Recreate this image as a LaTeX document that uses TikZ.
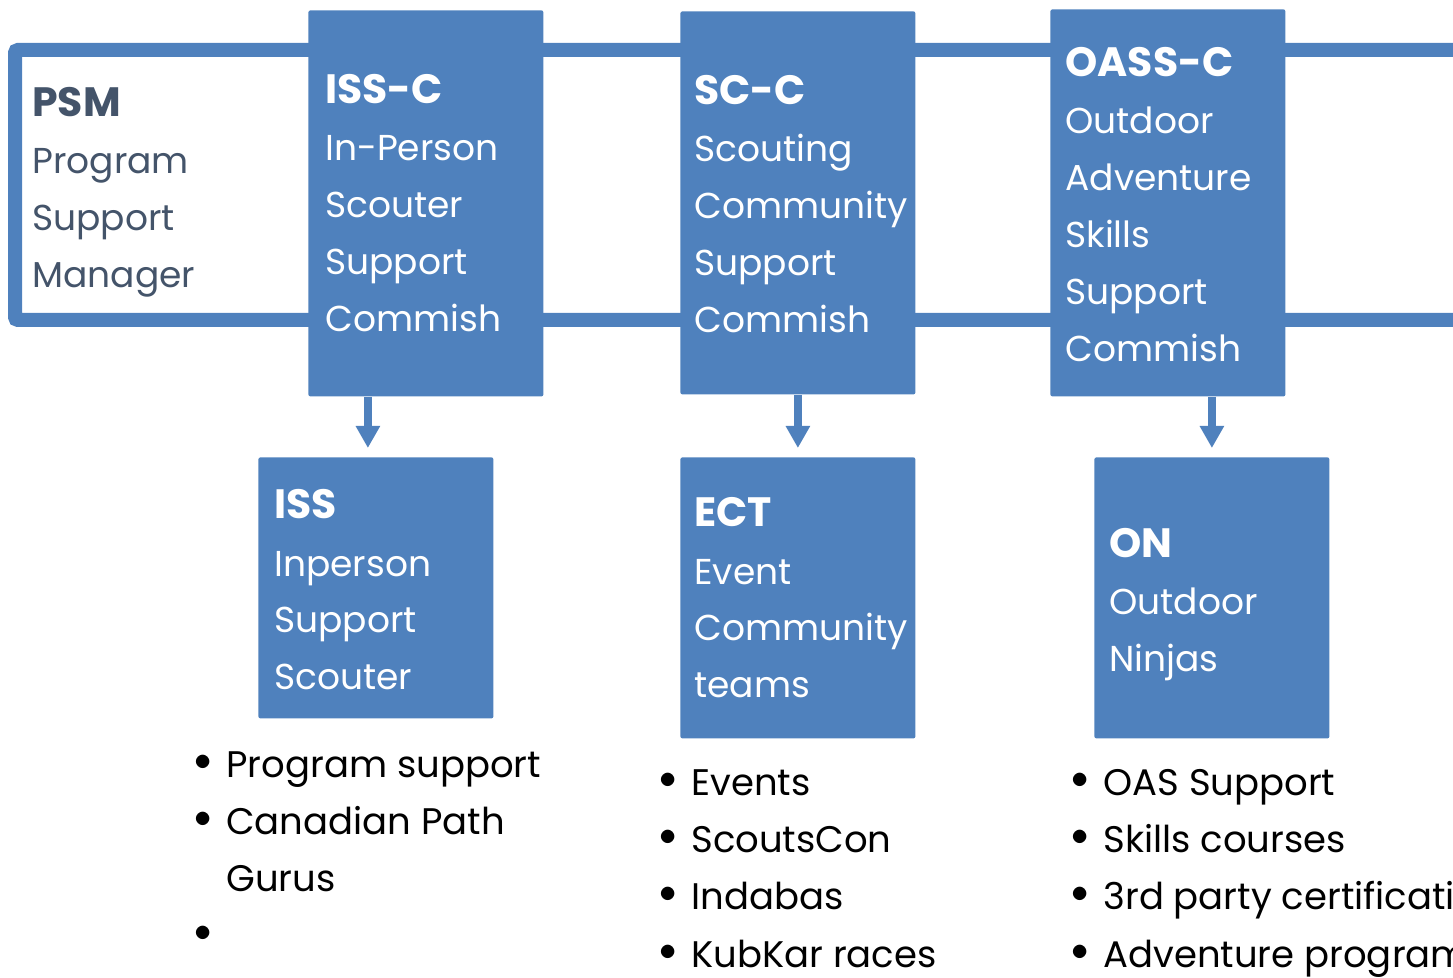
\documentclass[tikz,border=0pt]{standalone}
\usepackage{fontspec}
\setmainfont{Poppins}
\usetikzlibrary{arrows.meta}

\definecolor{boxblue}{HTML}{4F81BD}
\definecolor{slate}{HTML}{44546A}

\newcommand\hd[1]{{\fontsize{20.5}{28.5}\selectfont\bfseries #1}}
\newcommand\bul{\makebox[16pt][l]{\raisebox{3.5pt}{$\bullet$}}}

\tikzset{
  frame/.style={draw=boxblue, line width=7pt, rounded corners=1.5pt},
  box/.style={fill=boxblue, rounded corners=1pt, anchor=north west,
    minimum width=117.5pt, inner sep=0pt},
  boxtext/.style={white, anchor=base west, align=left, inner sep=0pt,
    font=\fontsize{18}{28.5}\selectfont},
  listtext/.style={black, anchor=base west, align=left, inner sep=0pt,
    font=\fontsize{18.5}{28.6}\selectfont},
  arr/.style={draw=boxblue, line width=4pt, shorten >=4.5pt,
    -{Triangle[width=11.5pt,length=11pt]}}
}

\begin{document}
\begin{tikzpicture}[x=0.5pt,y=-0.5pt]
  \useasboundingbox (0,0) rectangle (1453,978);
  \clip (0,0) rectangle (1453,978);
  % manager frame
  \draw[frame] (15,50) rectangle (1490,320);
  \node[boxtext, slate] (psm) at (32,288) {\hd{PSM}\\Program\\Support\\Manager};

  % commissioners
  \node[box, minimum height=193pt] (issc) at (308,10) {};
  \node[box, minimum height=191.5pt] (scc) at (680,11) {};
  \node[box, minimum height=193.5pt] (oassc) at (1050,9) {};
  \node[boxtext] (issc-t) at (325,332) {\hd{ISS-C}\\In-Person\\Scouter\\Support\\Commish};
  \node[boxtext] (scc-t) at (694,333) {\hd{SC-C}\\Scouting\\Community\\Support\\Commish};
  \node[boxtext] (oassc-t) at (1065,362) {\hd{OASS-C}\\Outdoor\\Adventure\\Skills\\Support\\Commish};

  % teams
  \node[box, minimum height=130.5pt] (iss) at (258,457) {};
  \node[box, minimum height=140.5pt] (ect) at (680,457) {};
  \node[box, minimum height=140.5pt] (on) at (1094,457) {};
  \node[boxtext] (iss-t) at (274,690) {\hd{ISS}\\Inperson\\Support\\Scouter};
  \node[boxtext] (ect-t) at (694,698) {\hd{ECT}\\Event\\Community\\teams};
  \node[boxtext] (on-t) at (1109,672) {\hd{ON}\\Outdoor\\Ninjas};

  \draw[arr] ([xshift=-4pt]iss.north |- issc.south) -- ([xshift=-4pt]iss.north);
  \draw[arr] (ect.north |- scc.south) -- (ect.north);
  \draw[arr] (on.north |- oassc.south) -- (on.north);

  % duties
  \node[listtext] (iss-l) at (194,949) {\bul Program support\\\bul Canadian Path\\\hspace*{16pt}Gurus\\\bul};
  \node[listtext] (ect-l) at (659,967) {\bul Events\\\bul ScoutsCon\\\bul Indabas\\\bul KubKar races};
  \node[listtext] (on-l) at (1071,967) {\bul OAS Support\\\bul Skills courses\\\bul 3rd party certifications\\\bul Adventure programs};
\end{tikzpicture}
\end{document}
